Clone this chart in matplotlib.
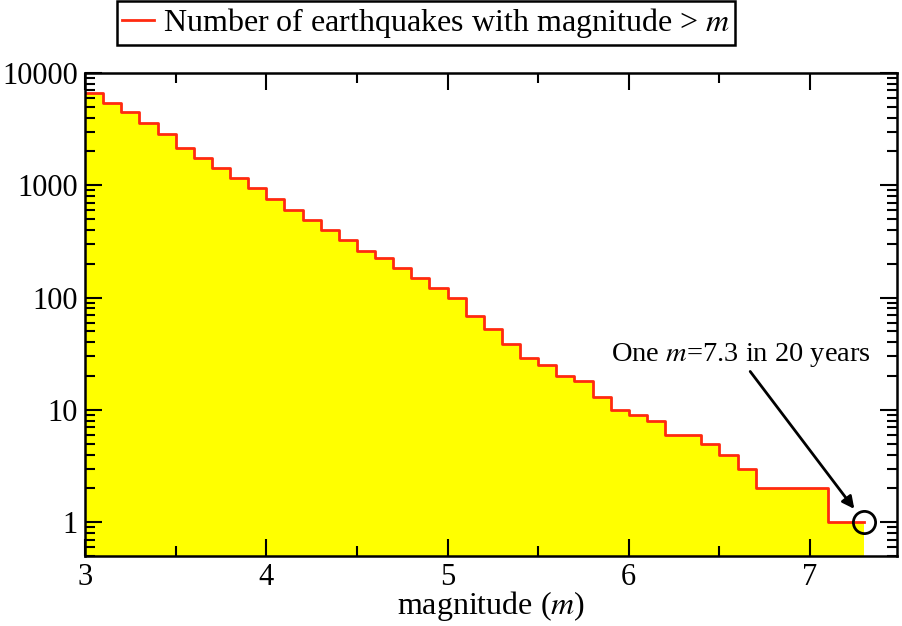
import matplotlib
matplotlib.use('Agg')
import matplotlib.pyplot as plt
from matplotlib.ticker import FixedLocator, FixedFormatter, LogLocator, NullFormatter, MultipleLocator

plt.rcParams['font.family'] = ['Liberation Serif', 'DejaVu Serif']
plt.rcParams['mathtext.fontset'] = 'stix'

# lower edge of each 0.1 magnitude bin
mag_lo = [3.0, 3.1, 3.2, 3.3, 3.4, 3.5, 3.6, 3.7, 3.8, 3.9,
          4.0, 4.1, 4.2, 4.3, 4.4, 4.5, 4.6, 4.7, 4.8, 4.9,
          5.0, 5.1, 5.2, 5.3, 5.4, 5.5, 5.6, 5.7, 5.8, 5.9,
          6.0, 6.1, 6.2, 6.3, 6.4, 6.5, 6.6, 6.7, 6.8, 6.9,
          7.0, 7.1, 7.2]
mag_max = 7.3

# cumulative number of events with magnitude > m
n_above = [6700, 5450, 4450, 3570, 2890, 2170, 1750, 1420, 1150, 940,
           760, 606, 490, 400, 326, 262, 225, 184, 149, 121,
           99, 68, 52, 39, 29, 25, 20, 18, 13, 10,
           9, 8, 6, 6, 5, 4, 3, 2, 2, 2,
           2, 1, 1]

big_one = (7.3, 1)

x_ticks = [3, 4, 5, 6, 7]
y_ticks = [1, 10, 100, 1000, 10000]
y_labels = ['1', '10', '100', '1000', '10000']

fig = plt.figure(figsize=(9.02, 6.26), dpi=100)
ax = fig.add_axes([85 / 902, 1 - 556 / 626, 812 / 902, 483 / 626])

xs = mag_lo + [mag_max]
ys = n_above + [n_above[-1]]
ax.fill_between(xs, ys, 1e-3, step='post', color='#ffff00', lw=0)
line, = ax.step(xs, ys, where='post', color='#ff2a10', lw=2,
                label='Number of earthquakes with magnitude > $m$')
ax.plot(*big_one, 'o', ms=16, mfc='none', mec='black', mew=2, zorder=5)

ax.set_yscale('log')
ax.set_xlim(3, 7.48)
ax.set_ylim(0.5, 10000)

ax.xaxis.set_major_locator(FixedLocator(x_ticks))
ax.xaxis.set_minor_locator(MultipleLocator(0.5))
ax.yaxis.set_major_locator(FixedLocator(y_ticks))
ax.yaxis.set_major_formatter(FixedFormatter(y_labels))
ax.yaxis.set_minor_locator(LogLocator(base=10, subs=range(2, 10)))
ax.yaxis.set_minor_formatter(NullFormatter())

ax.tick_params(which='both', direction='in', top=True, right=True,
               width=1.5, labelsize=22, colors='black')
ax.tick_params(which='major', length=12, pad=5)
ax.tick_params(which='minor', length=7)
for s in ax.spines.values():
    s.set_linewidth(1.8)

ax.set_xlabel('magnitude ($m$)', fontsize=23, labelpad=-2)

ax.annotate('', xy=big_one, xytext=(6.67, 22),
            arrowprops=dict(arrowstyle='-|>', color='black', lw=2,
                            mutation_scale=18, shrinkA=0, shrinkB=12))
ax.text(6.62, 31, 'One $m$=7.3 in 20 years', fontsize=20.5,
        ha='center', va='center')

fig.legend(handles=[line], loc='lower left', bbox_to_anchor=(117 / 902, 1 - 45 / 626),
           fontsize=23, frameon=True, fancybox=False, edgecolor='black',
           borderpad=0.15, borderaxespad=0, handlelength=1.0, handletextpad=0.3,
           framealpha=1).get_frame().set_linewidth(1.8)

plt.savefig('out.png', dpi=100)
